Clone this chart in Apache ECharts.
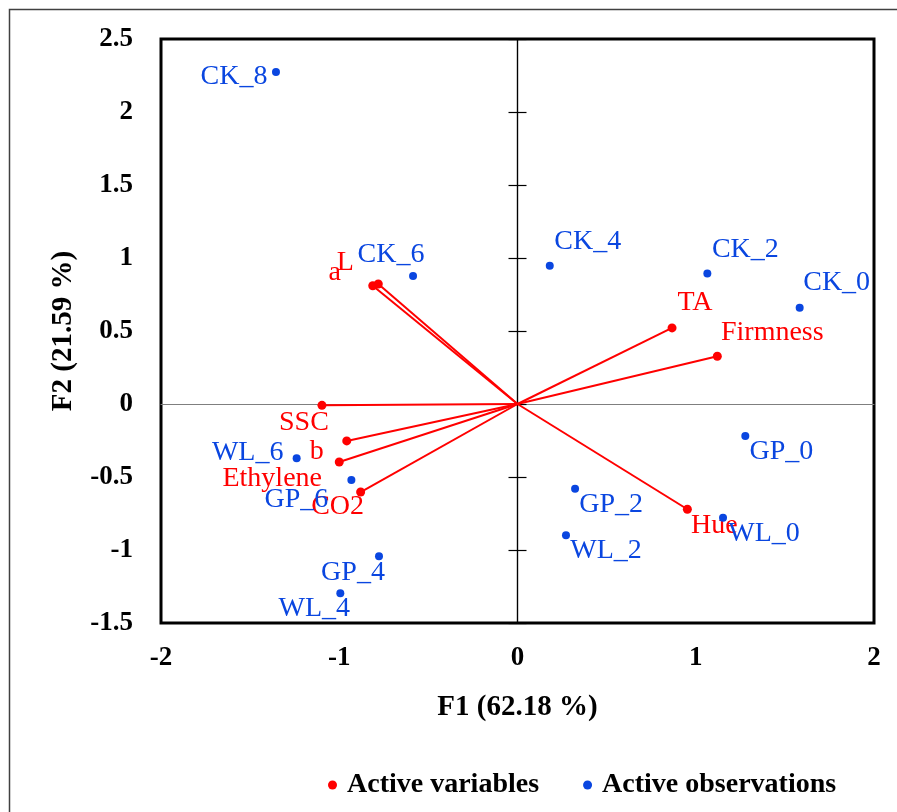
<!DOCTYPE html>
<html>
<head>
<meta charset="utf-8">
<script src="https://cdn.jsdelivr.net/npm/echarts@6/dist/echarts.min.js"></script>
<style>html,body{margin:0;padding:0;background:#fff}#c{width:897px;height:812px}</style>
</head>
<body>
<div id="c"></div>
<script>
// ---- data ----
const xTicks = [-2, -1, 0, 1, 2];
const yTicks = [-1.5, -1, -0.5, 0, 0.5, 1, 1.5, 2, 2.5];
const xTitle = 'F1 (62.18 %)';
const yTitle = 'F2 (21.59 %)';

const obsNames = ['CK_0','CK_2','CK_4','CK_6','CK_8','GP_0','GP_2','GP_4','GP_6','WL_0','WL_2','WL_4','WL_6'];
const obsF1 = [1.583, 1.065, 0.181, -0.586, -1.355, 1.278, 0.323, -0.777, -0.932, 1.153, 0.272, -0.994, -1.239];
const obsF2 = [0.660, 0.893, 0.947, 0.877, 2.274, -0.219, -0.580, -1.043, -0.521, -0.779, -0.899, -1.297, -0.372];

const varNames = ['L','a','b','SSC','Ethylene','CO2','TA','Firmness','Hue'];
const varF1 = [-0.781, -0.812, -0.958, -1.097, -1.000, -0.880, 0.867, 1.121, 0.953];
const varF2 = [0.822, 0.810, -0.253, -0.009, -0.397, -0.603, 0.521, 0.327, -0.721];

// ---- label placement (style, pixels from marker centre) ----
const obsLabelOffset = {
  'CK_0':[37,-25],'CK_2':[38,-24],'CK_4':[38,-24],'CK_6':[-22,-21],'CK_8':[-42,5],
  'GP_0':[36,16],'GP_2':[36,16],'GP_4':[-26,16],'GP_6':[-55,20],
  'WL_0':[41,16],'WL_2':[40,15],'WL_4':[-26,15],'WL_6':[-49,-6]
};
const varLabelOffset = {
  'L':[-33,-21],'a':[-38,-13],'b':[-30,11],'SSC':[-18,17],'Ethylene':[-67,17],
  'CO2':[-23,15],'TA':[23,-25],'Firmness':[55,-24],'Hue':[27,16]
};

const RED = '#ff0000';
const BLUE = '#0a46e0';
const SERIF = '"Liberation Serif", "Times New Roman", serif';

const xMin = xTicks[0], xMax = xTicks[xTicks.length-1], xInt = xTicks[1]-xTicks[0];
const yMin = yTicks[0], yMax = yTicks[yTicks.length-1], yInt = yTicks[1]-yTicks[0];

const obsData = obsNames.map((n,i)=>({
  name:n, value:[obsF1[i], obsF2[i]],
  label:{offset: obsLabelOffset[n]}
}));
const varData = varNames.map((n,i)=>({
  name:n, value:[varF1[i], varF2[i]],
  label:{offset: varLabelOffset[n]}
}));
const vecData = varNames.map((n,i)=>({coords:[[0,0],[varF1[i], varF2[i]]]}));

const chart = echarts.init(document.getElementById('c'), null, {renderer:'canvas'});
const axisLabelStyle = {fontFamily:SERIF, fontWeight:'bold', fontSize:27, color:'#000'};
const titleStyle = {fontFamily:SERIF, fontWeight:'bold', fontSize:29, color:'#000'};

chart.setOption({
  animation:false,
  backgroundColor:'#fff',
  graphic:[{
    type:'rect', shape:{x:9.5, y:9.5, width:1000, height:1000},
    style:{fill:'none', stroke:'#404040', lineWidth:1.5}, z:-1
  }],
  grid:{left:161, top:39, right:23, bottom:189, show:true, borderColor:'#000', borderWidth:3, backgroundColor:'transparent'},
  legend:{
    data:['Active variables','Active observations'],
    left:323, top:766, icon:'circle', itemWidth:9, itemHeight:9, itemGap:44,
    textStyle:{fontFamily:SERIF, fontWeight:'bold', fontSize:28, color:'#000', padding:[0,0,0,5]}
  },
  xAxis:[{
    type:'value', min:xMin, max:xMax, interval:xInt,
    axisLine:{show:false, onZero:false}, axisTick:{show:false}, splitLine:{show:false},
    axisLabel:Object.assign({margin:22}, axisLabelStyle),
    name:xTitle, nameLocation:'middle', nameGap:70,
    nameTextStyle:titleStyle
  },{
    type:'value', min:xMin, max:xMax, interval:xInt, position:'bottom',
    axisLine:{show:true, onZero:true, lineStyle:{color:'#7f7f7f', width:1}},
    axisTick:{show:false}, axisLabel:{show:false}, splitLine:{show:false}
  }],
  yAxis:[{
    type:'value', min:yMin, max:yMax, interval:yInt,
    axisLine:{show:false, onZero:false}, axisTick:{show:false}, splitLine:{show:false},
    axisLabel:Object.assign({margin:28}, axisLabelStyle),
    name:yTitle, nameLocation:'middle', nameGap:83, nameRotate:90,
    nameTextStyle:titleStyle
  },{
    type:'value', min:yMin, max:yMax, interval:yInt, position:'left',
    axisLine:{show:true, onZero:true, lineStyle:{color:'#000', width:1.2}},
    axisTick:{show:true, inside:false, length:9, lineStyle:{color:'#000', width:1.2}},
    axisLabel:{show:false}, splitLine:{show:false}
  },{
    type:'value', min:yMin, max:yMax, interval:yInt, position:'left',
    axisLine:{show:true, onZero:true, lineStyle:{color:'#000', width:1.2}},
    axisTick:{show:true, inside:true, length:9, lineStyle:{color:'#000', width:1.2}},
    axisLabel:{show:false}, splitLine:{show:false}
  }],
  series:[{
    type:'lines', coordinateSystem:'cartesian2d', xAxisIndex:0, yAxisIndex:0,
    data:vecData, lineStyle:{color:RED, width:2, opacity:1}, silent:true, z:3
  },{
    name:'Active variables', type:'scatter', xAxisIndex:0, yAxisIndex:0,
    symbol:'circle', symbolSize:9, itemStyle:{color:RED, opacity:1}, z:4,
    label:{show:true, position:'inside', formatter:'{b}', color:RED, opacity:1,
      fontFamily:SERIF, fontSize:28, textBorderWidth:0},
    data:varData
  },{
    name:'Active observations', type:'scatter', xAxisIndex:0, yAxisIndex:0,
    symbol:'circle', symbolSize:8, itemStyle:{color:BLUE, opacity:1}, z:5,
    label:{show:true, position:'inside', formatter:'{b}', color:BLUE, opacity:1,
      fontFamily:SERIF, fontSize:28, textBorderWidth:0},
    data:obsData
  }]
});
</script>
</body>
</html>
